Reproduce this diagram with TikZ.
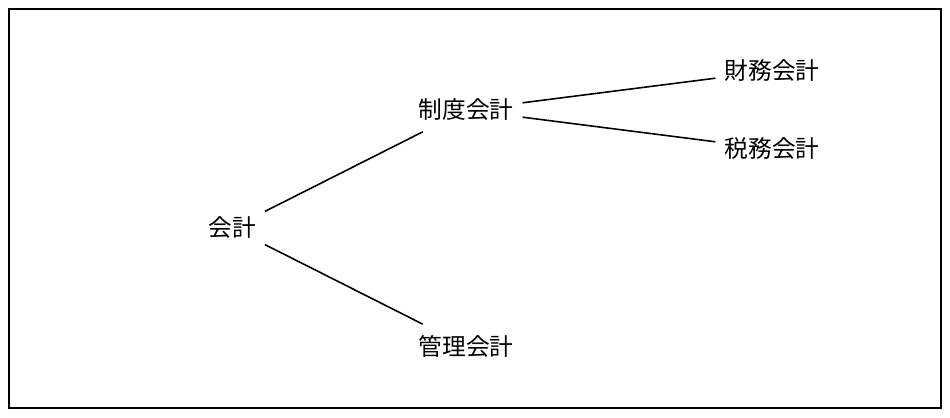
\documentclass[tikz,border=0pt]{standalone}
\usepackage{fontspec}
\setmainfont{Noto Sans CJK JP}
\begin{document}
\begin{tikzpicture}[x=0.02cm,y=-0.02cm,
  lbl/.style={font=\fontsize{13.5pt}{15pt}\selectfont,inner xsep=5pt,inner ysep=6pt},
  conn/.style={line width=0.9pt}]
\useasboundingbox (0,0) rectangle (950,418);
\draw[line width=0.6pt] (9,9) rectangle (941,408);
\node[lbl] (k) at (232,228) {会計};
\node[lbl] (s) at (466,110) {制度会計};
\node[lbl] (z) at (772,71) {財務会計};
\node[lbl] (t) at (772,149) {税務会計};
\node[lbl] (m) at (466,346) {管理会計};
\draw[conn] (k) -- (s);
\draw[conn] (k) -- (m);
\draw[conn] (s) -- (z);
\draw[conn] (s) -- (t);
\end{tikzpicture}
\end{document}
